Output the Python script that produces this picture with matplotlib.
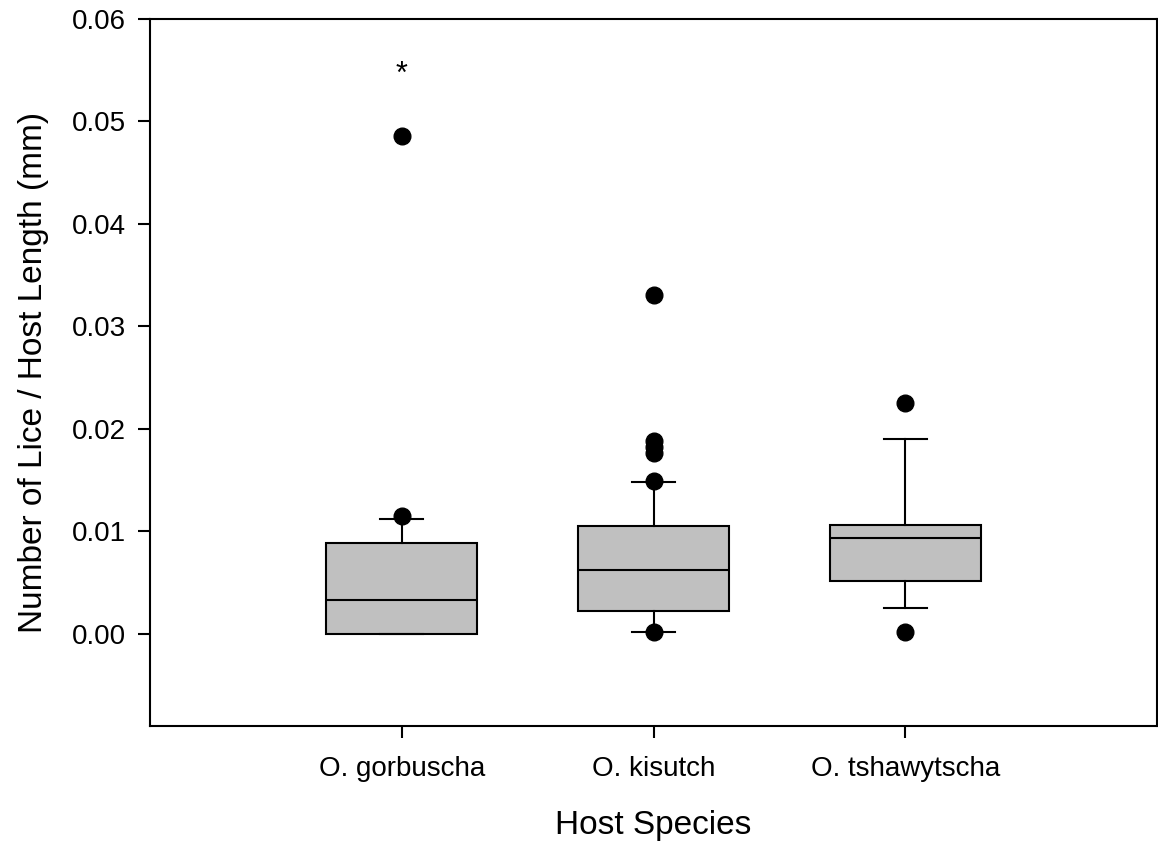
import matplotlib
matplotlib.use('Agg')
from matplotlib import pyplot as plt
from matplotlib import rcParams

species = ['O. gorbuscha', 'O. kisutch', 'O. tshawytscha']
q1 = [0.0, 0.00224, 0.0052]
med = [0.0033, 0.0062, 0.0093]
q3 = [0.00886, 0.0105, 0.0106]
whislo = [0.0, 0.0002, 0.0025]
whishi = [0.0112, 0.0148, 0.0190]
fliers = [
    [0.0115, 0.0486],
    [0.0002, 0.0149, 0.0176, 0.0182, 0.0188, 0.0331],
    [0.0002, 0.0225],
]
star_y = 0.0545

rcParams['font.family'] = ['Liberation Sans', 'DejaVu Sans']

fig = plt.figure(figsize=(11.58, 8.5), dpi=100)
ax = fig.add_axes([150 / 1158, 1 - 726 / 850, 1007 / 1158, 707 / 850])

stats = []
for i in range(len(species)):
    stats.append({'q1': q1[i], 'med': med[i], 'q3': q3[i],
                  'whislo': whislo[i], 'whishi': whishi[i],
                  'fliers': fliers[i], 'label': species[i]})

ax.bxp(stats, positions=[1, 2, 3], widths=0.6, patch_artist=True,
       boxprops=dict(facecolor='#c0c0c0', edgecolor='black', linewidth=1.5),
       medianprops=dict(color='black', linewidth=1.5),
       whiskerprops=dict(color='black', linewidth=1.5),
       capprops=dict(color='black', linewidth=1.5),
       capwidths=0.17,
       flierprops=dict(marker='o', markerfacecolor='black',
                       markeredgecolor='black', markersize=12))

ax.text(1, star_y, '*', ha='center', va='center', fontsize=22)

ax.set_xlim(0, 4)
ax.set_ylim(-0.009, 0.06)
ax.set_yticks([0.0, 0.01, 0.02, 0.03, 0.04, 0.05, 0.06])
ax.set_yticklabels(['0.00', '0.01', '0.02', '0.03', '0.04', '0.05', '0.06'])
ax.tick_params(direction='out', length=8.5, width=1.5, labelsize=20, pad=9)
ax.tick_params(axis='x', pad=13)
for s in ax.spines.values():
    s.set_linewidth(1.5)

ax.set_xlabel('Host Species', fontsize=24, labelpad=20)
ax.set_ylabel('Number of Lice / Host Length (mm)', fontsize=24, labelpad=16)

plt.savefig('out.png', dpi=100)
